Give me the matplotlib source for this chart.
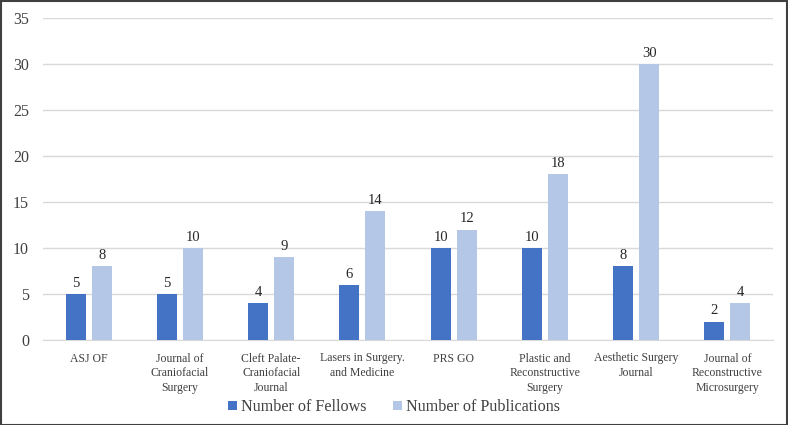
import matplotlib.pyplot as plt
import numpy as np

journals = ['ASJ OF', 'Journal of\nCraniofacial\nSurgery', 'Cleft Palate-\nCraniofacial\nJournal',
            'Lasers in Surgery.\nand Medicine', 'PRS GO', 'Plastic and\nReconstructive\nSurgery',
            'Aesthetic Surgery\nJournal', 'Journal of\nReconstructive\nMicrosurgery']
fellows = [5, 5, 4, 6, 10, 10, 8, 2]
publications = [8, 10, 9, 14, 12, 18, 30, 4]

plt.rcParams['font.family'] = ['Liberation Serif', 'DejaVu Serif']

fig = plt.figure(figsize=(7.88, 4.25), dpi=100)
ax = fig.add_axes([0.0546, 0.2, 0.9264, 0.7576])

x = np.arange(len(journals))
w = 0.22
b1 = ax.bar(x - 0.143, fellows, w, color='#4472C4', label='Number of Fellows', zorder=3)
b2 = ax.bar(x + 0.143, publications, w, color='#B4C7E7', label='Number of Publications', zorder=3)
ax.bar_label(b1, padding=3, fontsize=10.5, color='#262626')
ax.bar_label(b2, padding=3, fontsize=10.5, color='#262626')

ax.set_xlim(-0.5, len(journals) - 0.5)
ax.set_ylim(0, 35)
ax.set_yticks(range(0, 36, 5))
ax.set_xticks(x)
ax.set_xticklabels(journals, fontsize=8.5, color='#404040', linespacing=1.3)
ax.tick_params(axis='y', labelsize=11.5, colors='#404040', length=0, pad=10)
ax.tick_params(axis='x', length=0, pad=9)
ax.grid(axis='y', color='#d9d9d9', linewidth=1, zorder=0)
for s in ['top', 'right', 'left']:
    ax.spines[s].set_visible(False)
ax.spines['bottom'].set_color('#d9d9d9')

fig.legend(loc='center', bbox_to_anchor=(0.5, 0.042), ncol=2, frameon=False,
           fontsize=11.6, handlelength=0.55, handleheight=0.55, handletextpad=0.25,
           columnspacing=1.6, labelcolor='#404040')

fig.patches.append(plt.Rectangle((0.001, 0.001), 0.998, 0.997, transform=fig.transFigure,
                                 fill=False, edgecolor='#404040', linewidth=1.5))
fig.savefig('out.png', dpi=100)
